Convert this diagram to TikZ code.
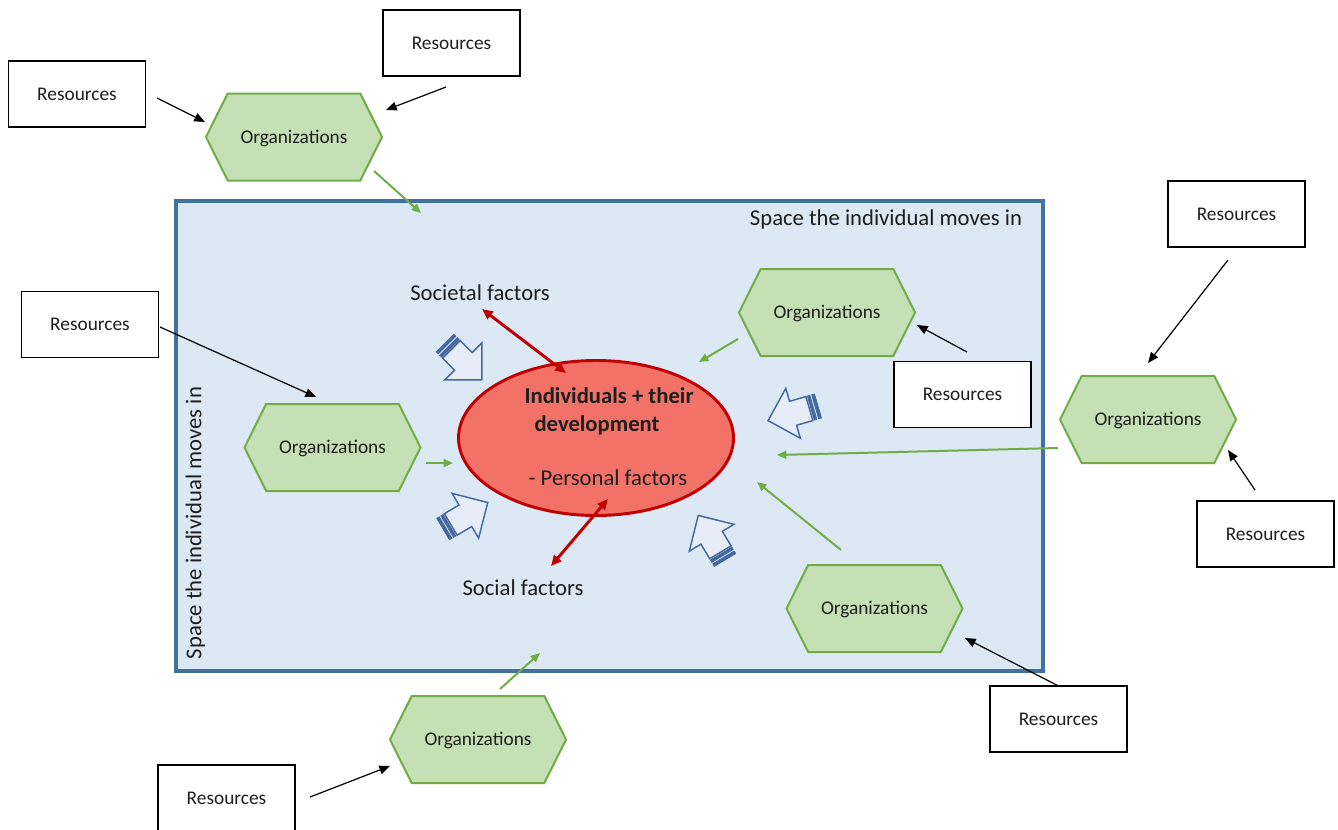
\documentclass[tikz,border=0pt]{standalone}
\usepackage{fontspec}
\setmainfont{Carlito}
\usetikzlibrary{shapes.symbols,shapes.geometric,arrows.meta}

\definecolor{boxblue}{RGB}{65,113,156}
\definecolor{boxfill}{RGB}{221,232,245}
\definecolor{hexfill}{RGB}{197,224,180}
\definecolor{hexline}{RGB}{112,173,71}
\definecolor{ellfill}{RGB}{242,114,104}
\definecolor{ellline}{RGB}{192,0,0}
\definecolor{txt}{RGB}{30,30,30}
\definecolor{arrfill}{RGB}{230,237,248}
\definecolor{stripecol}{RGB}{68,104,160}

\tikzset{
  smallfont/.style={font=\fontsize{14.5}{17}\selectfont, text=txt, text height=9.3pt, text depth=0pt},
  bigfont/.style={font=\fontsize{17}{20}\selectfont, text=txt, text height=10.9pt, text depth=0pt},
  boldfont/.style={font=\fontsize{17}{20}\selectfont\bfseries, text=txt, text height=10.9pt, text depth=0pt},
  res/.style={smallfont, draw=black, line width=0.8pt, fill=white, minimum width=102.75pt, minimum height=49.5pt, inner sep=0pt},
  org/.style={smallfont, shape=signal, signal to=east and west, signal pointer angle=127, draw=hexline, line width=1.5pt, fill=hexfill, minimum width=132pt, minimum height=65.25pt, inner sep=0pt},
  spacebox/.style={draw=boxblue, line width=3pt, fill=boxfill, minimum width=650.25pt, minimum height=352.5pt, inner sep=0pt},
  indiv/.style={ellipse, draw=ellline, line width=2.2pt, fill=ellfill, minimum width=206.25pt, minimum height=116.25pt, inner sep=0pt},
  blk/.style={draw=black, line width=0.9pt, -{Triangle[length=8pt,width=6.5pt]}},
  grn/.style={draw=hexline, line width=1.5pt, -{Triangle[length=7pt,width=6pt]}},
  redarr/.style={draw=ellline, line width=2.2pt, {Triangle[length=8pt,width=7pt]}-{Triangle[length=8pt,width=7pt]}},
  barrow/.style={draw=stripecol, line width=1.1pt, fill=arrfill, line join=miter},
  bstripe/.style={draw=stripecol, line width=0.5pt, fill=stripecol},
}

\newcommand\blockarr[3]{%
  \begin{scope}[shift={(#1,#2)},rotate=#3]
    \filldraw[bstripe] (0,-12.5) rectangle (3,12.5);
    \filldraw[bstripe] (4.8,-12.5) rectangle (7.5,12.5);
    \draw[barrow] (9,-12.5) -- (26,-12.5) -- (26,-26) -- (52,0) -- (26,26) -- (26,12.5) -- (9,12.5) -- cycle;
  \end{scope}}

\begin{document}
\begin{tikzpicture}[x=0.75pt,y=-0.75pt]
\useasboundingbox (0,0) rectangle (1338,829);
\clip (0,0) rectangle (1338,829);
\fill[white] (0,0) rectangle (1338,829);

% space
\node[spacebox] (space) at (609.5,436) {};
\node[bigfont] (spt) at (886,218) {Space the individual moves in};
\node[bigfont, rotate=90] (spl) at (194,523) {Space the individual moves in};

% individual
\node[indiv] (ind) at (596,438) {};
\node[boldfont] (ind1) at (609,396) {Individuals + their};
\node[boldfont] (ind2) at (597,424) {development};
\node[bigfont] (ind3) at (608,478) {- Personal factors};

% factors
\node[bigfont] (socl) at (480,293) {Societal factors};
\node[bigfont] (sol) at (523,588) {Social factors};

% organizations
\node[org] (h1) at (294,137) {Organizations};
\node[org] (h2) at (827,312.5) {Organizations};
\node[org] (h3) at (332.5,447.5) {Organizations};
\node[org] (h4) at (1148,419.5) {Organizations};
\node[org] (h5) at (874.5,608.5) {Organizations};
\node[org] (h6) at (478,739.5) {Organizations};

% resources
\node[res] (r1) at (77,94) {Resources};
\node[res] (r2) at (451.5,43) {Resources};
\node[res] (r3) at (1236.5,214) {Resources};
\node[res] (r4) at (90,324.5) {Resources};
\node[res] (r5) at (962.5,394.5) {Resources};
\node[res] (r6) at (1265.5,534) {Resources};
\node[res] (r7) at (1058.5,719) {Resources};
\node[res] (r8) at (226.5,798) {Resources};

% black arrows
\draw[blk] ([shift={(80,4)}]r1.center) -- ([shift={(-89,-15)}]h1.center);
\draw[blk] ([shift={(-5.5,44)}]r2.center) -- ([shift={(92,-27)}]h1.center);
\draw[blk] ([shift={(70,2.5)}]r4.center) -- ([shift={(-16.5,-50.5)}]h3.center);
\draw[blk] ([shift={(4.5,-42.5)}]r5.center) -- ([shift={(90,12.5)}]h2.center);
\draw[blk] ([shift={(-8.5,46)}]r3.center) -- ([shift={(0,-56.5)}]h4.center);
\draw[blk] ([shift={(-10.5,-44)}]r6.center) -- ([shift={(80,30.5)}]h4.center);
\draw[blk] ([shift={(0,-33)}]r7.center) -- ([shift={(90.5,29.5)}]h5.center);
\draw[blk] ([shift={(83.5,-1)}]r8.center) -- ([shift={(-88,26.5)}]h6.center);

% green arrows
\draw[grn] ([shift={(80,34)}]h1.center) -- ([shift={(-188.5,-223)}]space.center);
\draw[grn] ([shift={(-89,26.5)}]h2.center) -- ([shift={(103,-76)}]ind.center);
\draw[grn] ([shift={(93.5,15.5)}]h3.center) -- ([shift={(-143,25)}]ind.center);
\draw[grn] ([shift={(-90,28.5)}]h4.center) -- ([shift={(181,17)}]ind.center);
\draw[grn] ([shift={(-33.5,-58.5)}]h5.center) -- ([shift={(161,44)}]ind.center);
\draw[grn] ([shift={(22,-50.5)}]h6.center) -- ([shift={(-69.5,217)}]space.center);

% red arrows
\draw[redarr] ([shift={(2,16)}]socl.center) -- ([shift={(-30,-65)}]ind.center);
\draw[redarr] ([shift={(12,61)}]ind.center) -- ([shift={(28,-22)}]sol.center);

% block arrows
\blockarr{445}{343}{-45}
\blockarr{443}{529}{30.6}
\blockarr{725}{560}{121}
\blockarr{818}{406}{196.3}
\end{tikzpicture}
\end{document}
